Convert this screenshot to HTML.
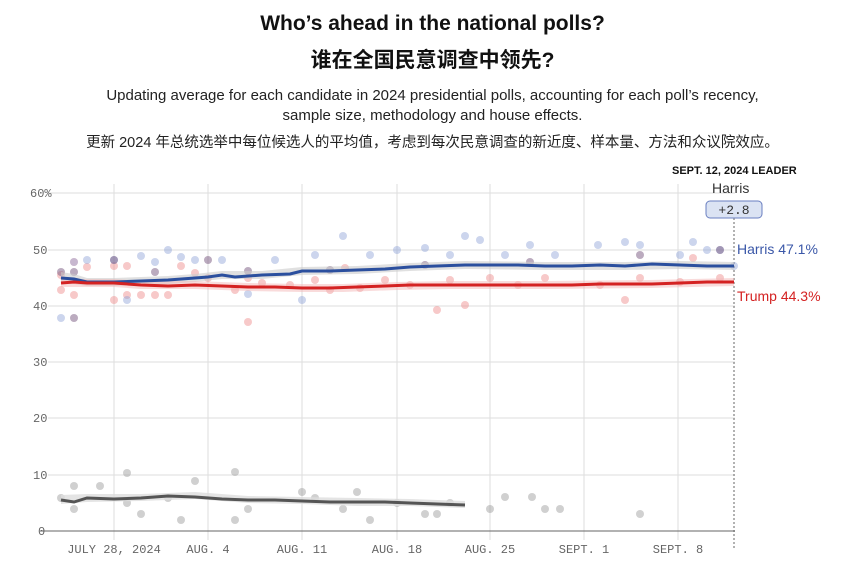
<!DOCTYPE html>
<html><head><meta charset="utf-8"><style>
body{margin:0;background:#fff;width:865px;height:573px;overflow:hidden;font-family:"Liberation Sans","Noto Sans CJK SC",sans-serif}
.t{position:absolute;left:0;width:865px;text-align:center;color:#111}
circle{r:4px}
</style></head><body>
<div class="t" style="top:12px;font-size:21px;font-weight:bold">Who’s ahead in the national polls?</div>
<div class="t" style="top:44px;font-size:21px;font-weight:bold">谁在全国民意调查中领先?</div>
<div class="t" style="top:86px;font-size:15px;line-height:20px;color:#222">Updating average for each candidate in 2024 presidential polls, accounting for each poll’s recency,<br>sample size, methodology and house effects.</div>
<div class="t" style="top:131px;font-size:14.5px;color:#222">更新 2024 年总统选举中每位候选人的平均值，考虑到每次民意调查的新近度、样本量、方法和众议院效应。</div>
<svg width="865" height="573" style="position:absolute;left:0;top:0" font-family="Liberation Mono,monospace">
<g stroke="#ddd" stroke-width="1">
<line x1="48" x2="735" y1="193" y2="193"/><line x1="48" x2="735" y1="250" y2="250"/><line x1="48" x2="735" y1="306" y2="306"/><line x1="48" x2="735" y1="362" y2="362"/><line x1="48" x2="735" y1="418" y2="418"/><line x1="48" x2="735" y1="475" y2="475"/>
<line x1="114" x2="114" y1="184" y2="540"/><line x1="208" x2="208" y1="184" y2="540"/><line x1="302" x2="302" y1="184" y2="540"/><line x1="397" x2="397" y1="184" y2="540"/><line x1="490" x2="490" y1="184" y2="540"/><line x1="584" x2="584" y1="184" y2="540"/><line x1="678" x2="678" y1="184" y2="540"/>
</g>
<line x1="40" x2="735" y1="531" y2="531" stroke="#666"/>
<g fill="#666" font-size="12">
<text x="30" y="197">60%</text><text x="33" y="254">50</text><text x="33" y="310">40</text><text x="33" y="366">30</text><text x="33" y="422">20</text><text x="33" y="479">10</text><text x="38" y="535">0</text>
<g text-anchor="middle"><text x="114" y="553">JULY 28, 2024</text><text x="208" y="553">AUG. 4</text><text x="302" y="553">AUG. 11</text><text x="397" y="553">AUG. 18</text><text x="490" y="553">AUG. 25</text><text x="584" y="553">SEPT. 1</text><text x="678" y="553">SEPT. 8</text></g>
</g>
<line x1="734" x2="734" y1="218" y2="548" stroke="#666" stroke-dasharray="2,2"/>
<g fill="#e88" opacity="0.45">
<circle cx="61" cy="275" r="4"/><circle cx="61" cy="290" r="4"/><circle cx="74" cy="262" r="4"/><circle cx="74" cy="295" r="4"/><circle cx="87" cy="267" r="4"/><circle cx="114" cy="266" r="4"/><circle cx="114" cy="300" r="4"/><circle cx="127" cy="266" r="4"/><circle cx="127" cy="295" r="4"/><circle cx="141" cy="295" r="4"/><circle cx="155" cy="295" r="4"/><circle cx="168" cy="295" r="4"/><circle cx="181" cy="266" r="4"/><circle cx="195" cy="273" r="4"/><circle cx="208" cy="278" r="4"/><circle cx="235" cy="290" r="4"/><circle cx="248" cy="322" r="4"/><circle cx="248" cy="278" r="4"/><circle cx="262" cy="283" r="4"/><circle cx="290" cy="285" r="4"/><circle cx="315" cy="280" r="4"/><circle cx="330" cy="290" r="4"/><circle cx="345" cy="268" r="4"/><circle cx="360" cy="288" r="4"/><circle cx="385" cy="280" r="4"/><circle cx="410" cy="285" r="4"/><circle cx="437" cy="310" r="4"/><circle cx="450" cy="280" r="4"/><circle cx="465" cy="305" r="4"/><circle cx="490" cy="278" r="4"/><circle cx="518" cy="285" r="4"/><circle cx="545" cy="278" r="4"/><circle cx="600" cy="285" r="4"/><circle cx="625" cy="300" r="4"/><circle cx="640" cy="278" r="4"/><circle cx="680" cy="282" r="4"/><circle cx="693" cy="258" r="4"/><circle cx="720" cy="278" r="4"/>
</g>
<g fill="#8fa3d8" opacity="0.45">
<circle cx="61" cy="318" r="4"/><circle cx="74" cy="262" r="4"/><circle cx="87" cy="260" r="4"/><circle cx="114" cy="260" r="4"/><circle cx="127" cy="300" r="4"/><circle cx="141" cy="256" r="4"/><circle cx="155" cy="262" r="4"/><circle cx="168" cy="250" r="4"/><circle cx="181" cy="257" r="4"/><circle cx="195" cy="260" r="4"/><circle cx="222" cy="260" r="4"/><circle cx="248" cy="294" r="4"/><circle cx="275" cy="260" r="4"/><circle cx="302" cy="300" r="4"/><circle cx="315" cy="255" r="4"/><circle cx="343" cy="236" r="4"/><circle cx="370" cy="255" r="4"/><circle cx="397" cy="250" r="4"/><circle cx="425" cy="248" r="4"/><circle cx="450" cy="255" r="4"/><circle cx="465" cy="236" r="4"/><circle cx="480" cy="240" r="4"/><circle cx="505" cy="255" r="4"/><circle cx="530" cy="245" r="4"/><circle cx="555" cy="255" r="4"/><circle cx="598" cy="245" r="4"/><circle cx="625" cy="242" r="4"/><circle cx="640" cy="245" r="4"/><circle cx="680" cy="255" r="4"/><circle cx="693" cy="242" r="4"/><circle cx="707" cy="250" r="4"/><circle cx="720" cy="250" r="4"/><circle cx="734" cy="266" r="4"/>
</g>
<g fill="#7a5a80" opacity="0.5">
<circle cx="61" cy="272" r="4"/><circle cx="74" cy="272" r="4"/><circle cx="74" cy="318" r="4"/><circle cx="114" cy="260" r="4"/><circle cx="155" cy="272" r="4"/><circle cx="208" cy="260" r="4"/><circle cx="248" cy="271" r="4"/><circle cx="330" cy="270" r="4"/><circle cx="425" cy="265" r="4"/><circle cx="530" cy="262" r="4"/><circle cx="640" cy="255" r="4"/><circle cx="720" cy="250" r="4"/>
</g>
<g fill="#999" opacity="0.45">
<circle cx="61" cy="498" r="4"/><circle cx="74" cy="486" r="4"/><circle cx="74" cy="509" r="4"/><circle cx="100" cy="486" r="4"/><circle cx="127" cy="473" r="4"/><circle cx="127" cy="503" r="4"/><circle cx="141" cy="514" r="4"/><circle cx="168" cy="498" r="4"/><circle cx="181" cy="520" r="4"/><circle cx="195" cy="481" r="4"/><circle cx="235" cy="472" r="4"/><circle cx="235" cy="520" r="4"/><circle cx="248" cy="509" r="4"/><circle cx="302" cy="492" r="4"/><circle cx="315" cy="498" r="4"/><circle cx="343" cy="509" r="4"/><circle cx="357" cy="492" r="4"/><circle cx="370" cy="520" r="4"/><circle cx="397" cy="503" r="4"/><circle cx="425" cy="514" r="4"/><circle cx="437" cy="514" r="4"/><circle cx="450" cy="503" r="4"/><circle cx="490" cy="509" r="4"/><circle cx="505" cy="497" r="4"/><circle cx="532" cy="497" r="4"/><circle cx="545" cy="509" r="4"/><circle cx="560" cy="509" r="4"/><circle cx="640" cy="514" r="4"/>
</g>
<path d="M61,283 L74,284 L87,286 L114,286 L141,285 L168,284 L195,282 L222,279 L262,279 L302,275 L357,274 L410,271 L465,269 L545,270 L625,270 L680,269 L734,270 L734,262 L680,261 L625,262 L545,262 L465,261 L410,263 L357,266 L302,267 L262,271 L222,271 L195,274 L168,276 L141,277 L114,278 L87,278 L74,274 L61,272Z" fill="#ccc" opacity="0.6"/>
<path d="M61,287 L87,287 L114,287 L141,289 L195,289 L248,291 L302,292 L343,292 L397,290 L450,289 L545,289 L650,288 L734,286 L734,278 L650,280 L545,281 L450,281 L397,282 L343,284 L302,284 L248,283 L195,281 L141,281 L114,279 L87,279 L61,279Z" fill="#f4b8b8" opacity="0.5"/>
<path d="M61,504 L87,502 L141,501 L195,499 L248,503 L302,504 L357,506 L410,506 L465,508 L465,501 L410,499 L357,498 L302,497 L248,496 L195,492 L141,494 L87,494 L61,495Z" fill="#ddd" opacity="0.8"/>
<polyline points="61,278 74,279 87,282 114,282 141,281 168,280 195,278 208,277 222,275 235,277 262,275 290,274 302,271 330,271 357,270 385,269 410,267 437,266 465,265 490,265 518,265 545,266 572,266 600,265 625,266 652,264 680,265 707,266 734,266" fill="none" stroke="#2b4f9e" stroke-width="3"/>
<polyline points="61,283 74,282 87,283 114,283 141,285 168,286 195,285 222,286 248,287 275,287 302,288 330,288 357,287 385,286 410,285 437,285 465,285 490,285 518,285 545,285 572,285 600,284 625,284 652,284 680,283 707,282 734,282" fill="none" stroke="#d42222" stroke-width="3"/>
<polyline points="61,500 74,502 87,498 114,499 141,498 168,496 195,497 222,499 248,500 275,500 302,501 330,502 357,502 385,502 410,503 437,504 465,505" fill="none" stroke="#555" stroke-width="3"/>
<rect x="706" y="201" width="56" height="17" rx="4" fill="#dbe3f3" stroke="#6a7fc0"/>
<text x="734" y="214" text-anchor="middle" font-size="13" fill="#333">+2.8</text>
</svg>
<div style="position:absolute;left:672px;top:165px;font-size:11px;font-weight:bold;color:#111">SEPT. 12, 2024 LEADER</div>
<div style="position:absolute;left:712px;top:180px;font-size:14px;color:#333">Harris</div>
<div style="position:absolute;left:737px;top:241px;font-size:14px;color:#3a57a8">Harris 47.1%</div>
<div style="position:absolute;left:737px;top:288px;font-size:14px;color:#d42222">Trump 44.3%</div>
</body></html>
